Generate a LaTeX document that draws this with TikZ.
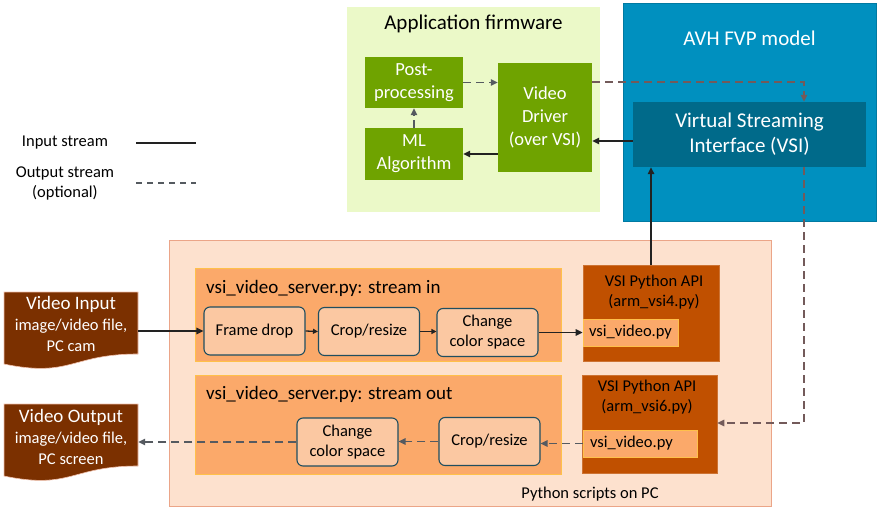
\documentclass[tikz,border=0pt]{standalone}
\usepackage{fontspec}
\setmainfont{Carlito}
\usetikzlibrary{arrows.meta}
\definecolor{appbg}{HTML}{EBF9C8}
\definecolor{green}{HTML}{6FA300}
\definecolor{avh}{HTML}{0090BF}
\definecolor{vsic}{HTML}{006A8A}
\definecolor{pybg}{HTML}{FDE1CE}
\definecolor{pyline}{HTML}{EBA588}
\definecolor{strm}{HTML}{FBA96A}
\definecolor{strmline}{HTML}{FFC04A}
\definecolor{rbox}{HTML}{FBC8A2}
\definecolor{rline}{HTML}{1F4E60}
\definecolor{api}{HTML}{C05000}
\definecolor{doc}{HTML}{7B3000}
\definecolor{dashbr}{HTML}{735A5A}
\definecolor{dashgr}{HTML}{555A60}
\definecolor{solid}{HTML}{222222}
\tikzset{
  fA/.style={font=\fontsize{21}{25}\selectfont},
  fB/.style={font=\fontsize{18.5}{23}\selectfont},
  fC/.style={font=\fontsize{16.5}{20}\selectfont},
  gbox/.style={fill=green, text=white, fB, align=center, inner sep=0pt},
  rbx/.style={fill=rbox, draw=rline, line width=1.1pt, rounded corners=6pt, fC, align=center, inner sep=0pt, minimum width=101pt, minimum height=48pt},
  sbox/.style={fill=strm, draw=strmline, line width=0.6pt, inner sep=0pt},
  apibox/.style={fill=api, draw=api!80!white, line width=0.5pt, inner sep=0pt},
  vvbox/.style={fill=strm, draw=strmline, line width=0.8pt, inner sep=0pt, fC},
  docbox/.style={text=white, align=center, inner sep=0pt, minimum width=134pt, minimum height=62pt, font=\fontsize{16.5}{21}\selectfont},
  sarr/.style={draw=solid, line width=1.5pt, -{Triangle[length=7pt,width=6.5pt]}},
  darr/.style={draw=dashgr, line width=1.4pt, dash pattern=on 8pt off 5pt, -{Triangle[length=7pt,width=6.5pt]}},
  dbarr/.style={draw=dashbr, line width=1.4pt, dash pattern=on 8pt off 5pt, -{Triangle[length=7pt,width=6.5pt]}},
}
\begin{document}
\begin{tikzpicture}[x=1pt,y=-1pt]
\useasboundingbox (0,0) rectangle (880,508);

% Application firmware
\node[fill=appbg, minimum width=253pt, minimum height=205pt, inner sep=0pt] (app) at (473.5,109.5) {};
\node[fA] (apptitle) at (473.5,24) {Application firmware};
\node[gbox, minimum width=98pt, minimum height=51pt] (post) at (414,82.5) {Post-\\processing};
\node[gbox, minimum width=98pt, minimum height=51pt] (ml) at (414,154) {ML\\Algorithm};
\node[gbox, minimum width=94pt, minimum height=109pt] (drv) at (545,117.5) {Video\\Driver\\(over VSI)};

% AVH FVP
\node[fill=avh, draw=avh!85!black, line width=0.5pt, minimum width=253pt, minimum height=218pt, inner sep=0pt] (avh) at (749.5,112) {};
\node[fA, text=white] (avhtitle) at (749.5,38) {AVH FVP model};
\node[fill=vsic, text=white, fA, align=center, inner sep=0pt, minimum width=233pt, minimum height=65pt] (vsi) at (749.5,134.5) {Virtual Streaming\\Interface (VSI)};

% legend
\node[fC] (lin) at (65,143) {Input stream};
\node[fC, align=center] (lout) at (65,183) {Output stream\\(optional)};
\draw[draw=solid, line width=1.2pt] (136,143) -- (196,143);
\draw[draw=dashgr, line width=1.2pt, dash pattern=on 6pt off 5pt] (136,183) -- (196,183);

% Python scripts area
\node[fill=pybg, draw=pyline, line width=1pt, minimum width=602pt, minimum height=266pt, inner sep=0pt] (py) at (470,373) {};
\node[fC] (pylabel) at (590,494) {Python scripts on PC};

\node[sbox, minimum width=366pt, minimum height=93pt] (sin) at (378,314.5) {};
\node[anchor=west, font=\fontsize{19}{23}\selectfont, inner sep=0pt] (sintitle) at (206,288) {vsi\_video\_server.py: stream in};
\node[sbox, minimum width=366pt, minimum height=99pt] (sout) at (378,424.5) {};
\node[anchor=west, font=\fontsize{19}{23}\selectfont, inner sep=0pt] (souttitle) at (206,394) {vsi\_video\_server.py: stream out};

\node[rbx] (fd) at (254.5,331) {Frame drop};
\node[rbx] (crin) at (369,331.5) {Crop/resize};
\node[rbx] (chin) at (487.5,332.5) {Change\\color space};
\node[rbx] (chout) at (347.5,442) {Change\\color space};
\node[rbx] (crout) at (489.5,441.5) {Crop/resize};

\node[apibox, minimum width=136pt, minimum height=96pt] (api4) at (651,313) {};
\node[fC, align=center, inner sep=0pt] (api4t) at (654,292) {VSI Python API\\(arm\_vsi4.py)};
\node[vvbox, minimum width=95pt, minimum height=27pt] (vv4) at (630.5,332.5) {vsi\_video.py};
\node[apibox, minimum width=135pt, minimum height=98pt] (api6) at (649.5,424) {};
\node[fC, align=center, inner sep=0pt] (api6t) at (647,397.5) {VSI Python API\\(arm\_vsi6.py)};
\node[vvbox, minimum width=114pt, minimum height=27pt, text width=100pt, align=left, inner xsep=7pt] (vv6) at (640,443.5) {vsi\_video.py};

% document shapes
\fill[doc, draw=pyline!70!white, line width=0.6pt] (4,292) -- (138,292) -- (138,354) .. controls (71,354) and (71,378) .. (4,364) -- cycle;
\node[docbox] (vin) at (71,323.5)
  {{\fontsize{19}{21}\selectfont Video Input}\\image/video file,\\PC cam};
\fill[doc, draw=pyline!70!white, line width=0.6pt] (4,404) -- (138,404) -- (138,466) .. controls (71,466) and (71,490) .. (4,476) -- cycle;
\node[docbox] (vout) at (71,437)
  {{\fontsize{19}{21}\selectfont Video Output}\\image/video file,\\PC screen};

% connectors: firmware
\coordinate (c1) at (804,82);
\coordinate (c2) at (804,423);
\draw[darr] (post.east) -- (post.east -| drv.west);
\draw[darr] (ml.north) -- (post.south);
\draw[sarr] (drv.west |- ml.east) -- (ml.east);
\draw[sarr] ([yshift=-6.5pt]vsi.west) -- ([yshift=-6.5pt]vsi.west -| drv.east);
\draw[dbarr] (drv.east |- c1) -- (c1) -- (c1 |- vsi.north);
\draw[dbarr] (c2 |- vsi.south) -- (c2) -- (c2 -| api6.east);
\draw[sarr] (api4.north) -- (api4.north |- vsi.south);

% connectors: python
\draw[sarr] (fd.west -| vin.east) -- (fd.west);
\draw[sarr, line width=1.3pt, -{Triangle[length=5pt,width=5pt]}] (fd.east) -- (crin.west);
\draw[sarr, line width=1.3pt, -{Triangle[length=5pt,width=5pt]}] (crin.east) -- (crin.east -| chin.west);
\draw[sarr] (chin.east) -- (chin.east -| vv4.west);
\draw[darr] (vv6.west) -- (vv6.west -| crout.east);
\draw[darr] (crout.west) -- (crout.west -| chout.east);
\draw[darr] (chout.west) -- (chout.west -| vout.east);
\end{tikzpicture}
\end{document}
